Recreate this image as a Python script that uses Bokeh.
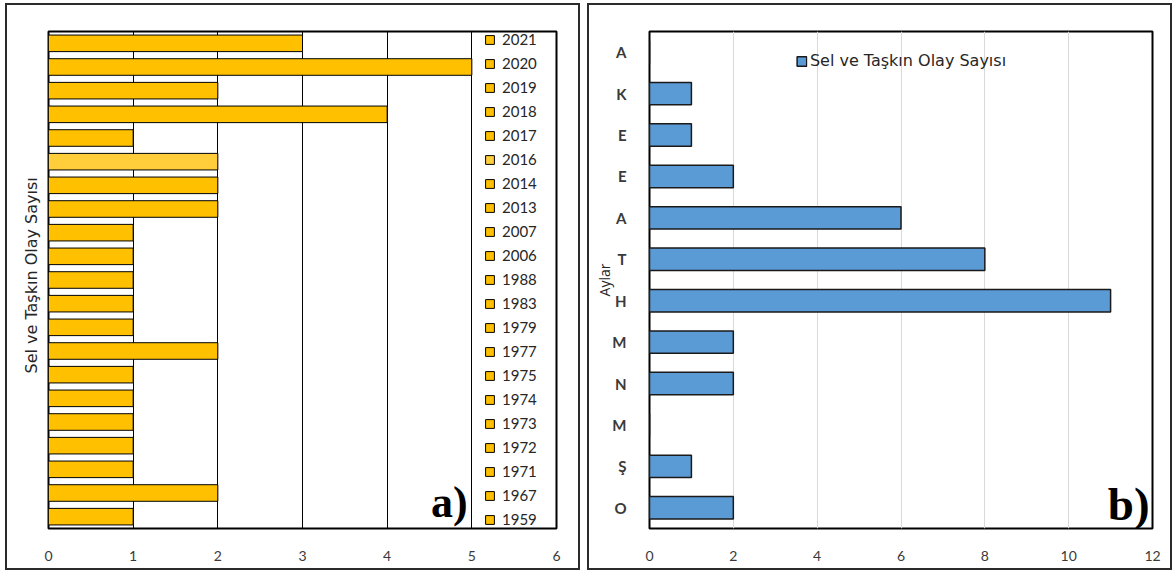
from bokeh.plotting import figure
from bokeh.layouts import row
from bokeh.models import ColumnDataSource, FactorRange, Range1d, FixedTicker, Label, Title
from bokeh.embed import file_html
from bokeh.resources import INLINE

# (a) flood / inundation events per year
years = ["2021", "2020", "2019", "2018", "2017", "2016", "2014", "2013", "2007", "2006",
         "1988", "1983", "1979", "1977", "1975", "1974", "1973", "1972", "1971", "1967", "1959"]
event_counts = [3, 5, 2, 4, 1, 2, 2, 2, 1, 1, 1, 1, 1, 2, 1, 1, 1, 1, 1, 2, 1]
year_axis_ticks = [0, 1, 2, 3, 4, 5, 6]

# (b) events per month, January (bottom) to December (top)
months = ["O", "Ş", "M", "N", "M", "H", "T", "A", "E", "E", "K", "A"]
monthly_counts = [2, 1, 0, 2, 2, 11, 8, 6, 2, 1, 1, 0]
month_axis_ticks = [0, 2, 4, 6, 8, 10, 12]

FONT = "Lato"
WIDE_FONT = "DejaVu Sans"
TICK_COLOR = "#3a3a3a"
BOX = {"border": "2px solid #2b2b2b"}


def style_x_axis(p, ticks):
    p.xaxis.ticker = FixedTicker(ticks=ticks)
    p.xaxis.axis_line_color = None
    p.xaxis.major_tick_line_color = None
    p.xaxis.minor_tick_line_color = None
    p.xaxis.major_label_standoff = 16
    p.xaxis.major_label_text_font = FONT
    p.xaxis.major_label_text_font_size = "14px"
    p.xaxis.major_label_text_color = TICK_COLOR
    p.xgrid.ticker = FixedTicker(ticks=ticks)
    p.ygrid.grid_line_color = None
    p.outline_line_color = "black"
    p.outline_line_width = 2


# ---------------- panel a ----------------
bar_colors = ["#FFCE3A" if y == "2016" else "#FFC000" for y in years]
src_a = ColumnDataSource(dict(year=years, count=event_counts, color=bar_colors))

pa = figure(width=575, height=567,
            y_range=FactorRange(factors=years[::-1]), x_range=Range1d(0, 6),
            output_backend="svg", toolbar_location=None,
            min_border_left=41, min_border_right=26, min_border_top=26, min_border_bottom=43,
            margin=(3, 0, 0, 5), styles=BOX)
pa.hbar(y="year", left=0, right="count", height=0.7, fill_color="color",
        line_color="black", line_width=1, source=src_a, legend_field="year")

style_x_axis(pa, year_axis_ticks)
pa.xgrid.grid_line_color = "black"
pa.xgrid.grid_line_width = 1
pa.yaxis.visible = False
pa.add_layout(Title(text="Sel ve Taşkın Olay Sayısı", align="left", offset=155,
                    text_font=WIDE_FONT, text_font_style="normal",
                    text_font_size="16px", text_color="#262626", standoff=15), "left")

leg_a = pa.legend[0]
leg_a.location = (436, 0)
leg_a.margin = 0
leg_a.padding = 14
leg_a.spacing = 6
leg_a.glyph_width = 11
leg_a.glyph_height = 11
leg_a.label_standoff = 7
leg_a.label_text_font = FONT
leg_a.label_text_font_size = "15px"
leg_a.label_text_color = "#262626"
leg_a.border_line_color = None
leg_a.background_fill_alpha = 0

pa.add_layout(Label(x=4.95, y=1.1, text="a)", text_align="right", text_baseline="middle",
                    text_font="Liberation Serif", text_font_style="bold",
                    text_font_size="44px", text_color="black"))

# ---------------- panel b ----------------
src_b = ColumnDataSource(dict(pos=list(range(len(months))), count=monthly_counts))

pb = figure(width=585, height=567,
            y_range=Range1d(-0.5, len(months) - 0.5), x_range=Range1d(0, 12),
            output_backend="svg", toolbar_location=None,
            min_border_left=60, min_border_right=22, min_border_top=21, min_border_bottom=44,
            margin=(3, 0, 0, 7), styles=BOX)
pb.hbar(y="pos", left=0, right="count", height=0.54, fill_color="#5B9BD5",
        line_color="#1a1a1a", line_width=1.5, source=src_b,
        legend_label="Sel ve Taşkın Olay Sayısı")

style_x_axis(pb, month_axis_ticks)
pb.xgrid.grid_line_color = "#d9d9d9"
pb.xgrid.grid_line_width = 1

pb.yaxis.ticker = FixedTicker(ticks=list(range(len(months))))
pb.yaxis.major_label_overrides = {i: m for i, m in enumerate(months)}
pb.yaxis.axis_line_color = None
pb.yaxis.major_tick_line_color = None
pb.yaxis.minor_tick_line_color = None
pb.yaxis.major_label_standoff = 17
pb.yaxis.major_label_text_font = FONT
pb.yaxis.major_label_text_font_size = "15px"
pb.yaxis.major_label_text_font_style = "bold"
pb.yaxis.major_label_text_color = TICK_COLOR
pb.yaxis.axis_label = "Aylar"
pb.yaxis.axis_label_text_font = "Open Sans"
pb.yaxis.axis_label_text_font_style = "normal"
pb.yaxis.axis_label_text_font_size = "14px"
pb.yaxis.axis_label_text_color = "#262626"
pb.yaxis.axis_label_standoff = -5

leg_b = pb.legend[0]
leg_b.location = "top_center"
leg_b.margin = 20
leg_b.padding = 0
leg_b.glyph_width = 12
leg_b.glyph_height = 12
leg_b.label_standoff = 3
leg_b.label_text_font = WIDE_FONT
leg_b.label_text_font_size = "16px"
leg_b.label_text_color = "#262626"
leg_b.border_line_color = None
leg_b.background_fill_alpha = 0

pb.add_layout(Label(x=11.93, y=0.1, text="b)", text_align="right", text_baseline="middle",
                    text_font="Liberation Serif", text_font_style="bold",
                    text_font_size="47px", text_color="black"))

layout = row(pa, pb, spacing=0)

with open("out.html", "w") as f:
    f.write(file_html(layout, INLINE))
